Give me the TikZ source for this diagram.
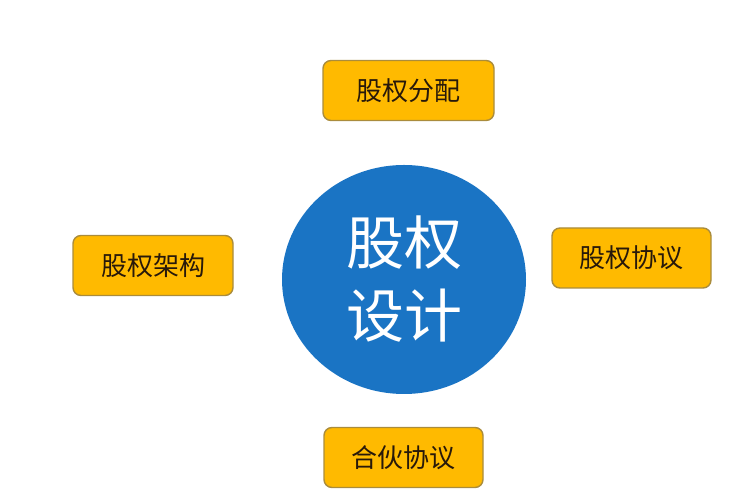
\documentclass[tikz,border=0pt]{standalone}
\usepackage{fontspec}
\setmainfont{Noto Sans CJK SC}
\usetikzlibrary{shapes.geometric}

\begin{document}
\begin{tikzpicture}[x=1pt,y=1pt]
 \definecolor{b1}{RGB}{26,116,196}
 \definecolor{o1}{RGB}{255,186,0}
 \definecolor{o2}{RGB}{170,140,60}
 \definecolor{t1}{RGB}{40,25,10}
 \tikzset{
   part/.style={draw=o2,line width=1.4pt,fill=o1,rounded corners=8pt,
     minimum height=60pt,inner sep=0pt,text=t1,
     font=\fontsize{26}{30}\selectfont},
   core/.style={ellipse,fill=b1,minimum width=244pt,minimum height=229pt,
     inner sep=0pt,text=white,align=center,
     font=\fontsize{58}{73}\selectfont}
 }
 \useasboundingbox (0,0) rectangle (750,500);
 \node[core] (design) at (404,220.5) {股权\\设计};
 \foreach \name/\xp/\yp/\bw/\txt in {
   alloc/408.5/409.5/171/股权分配,
   struct/153/234.5/160/股权架构,
   agree/631.5/242/159/股权协议,
   partner/403.5/42.5/159/合伙协议
 } {
   \node[part,minimum width=\bw pt] (\name) at (\xp,\yp) {\txt};
 }
\end{tikzpicture}
\end{document}
